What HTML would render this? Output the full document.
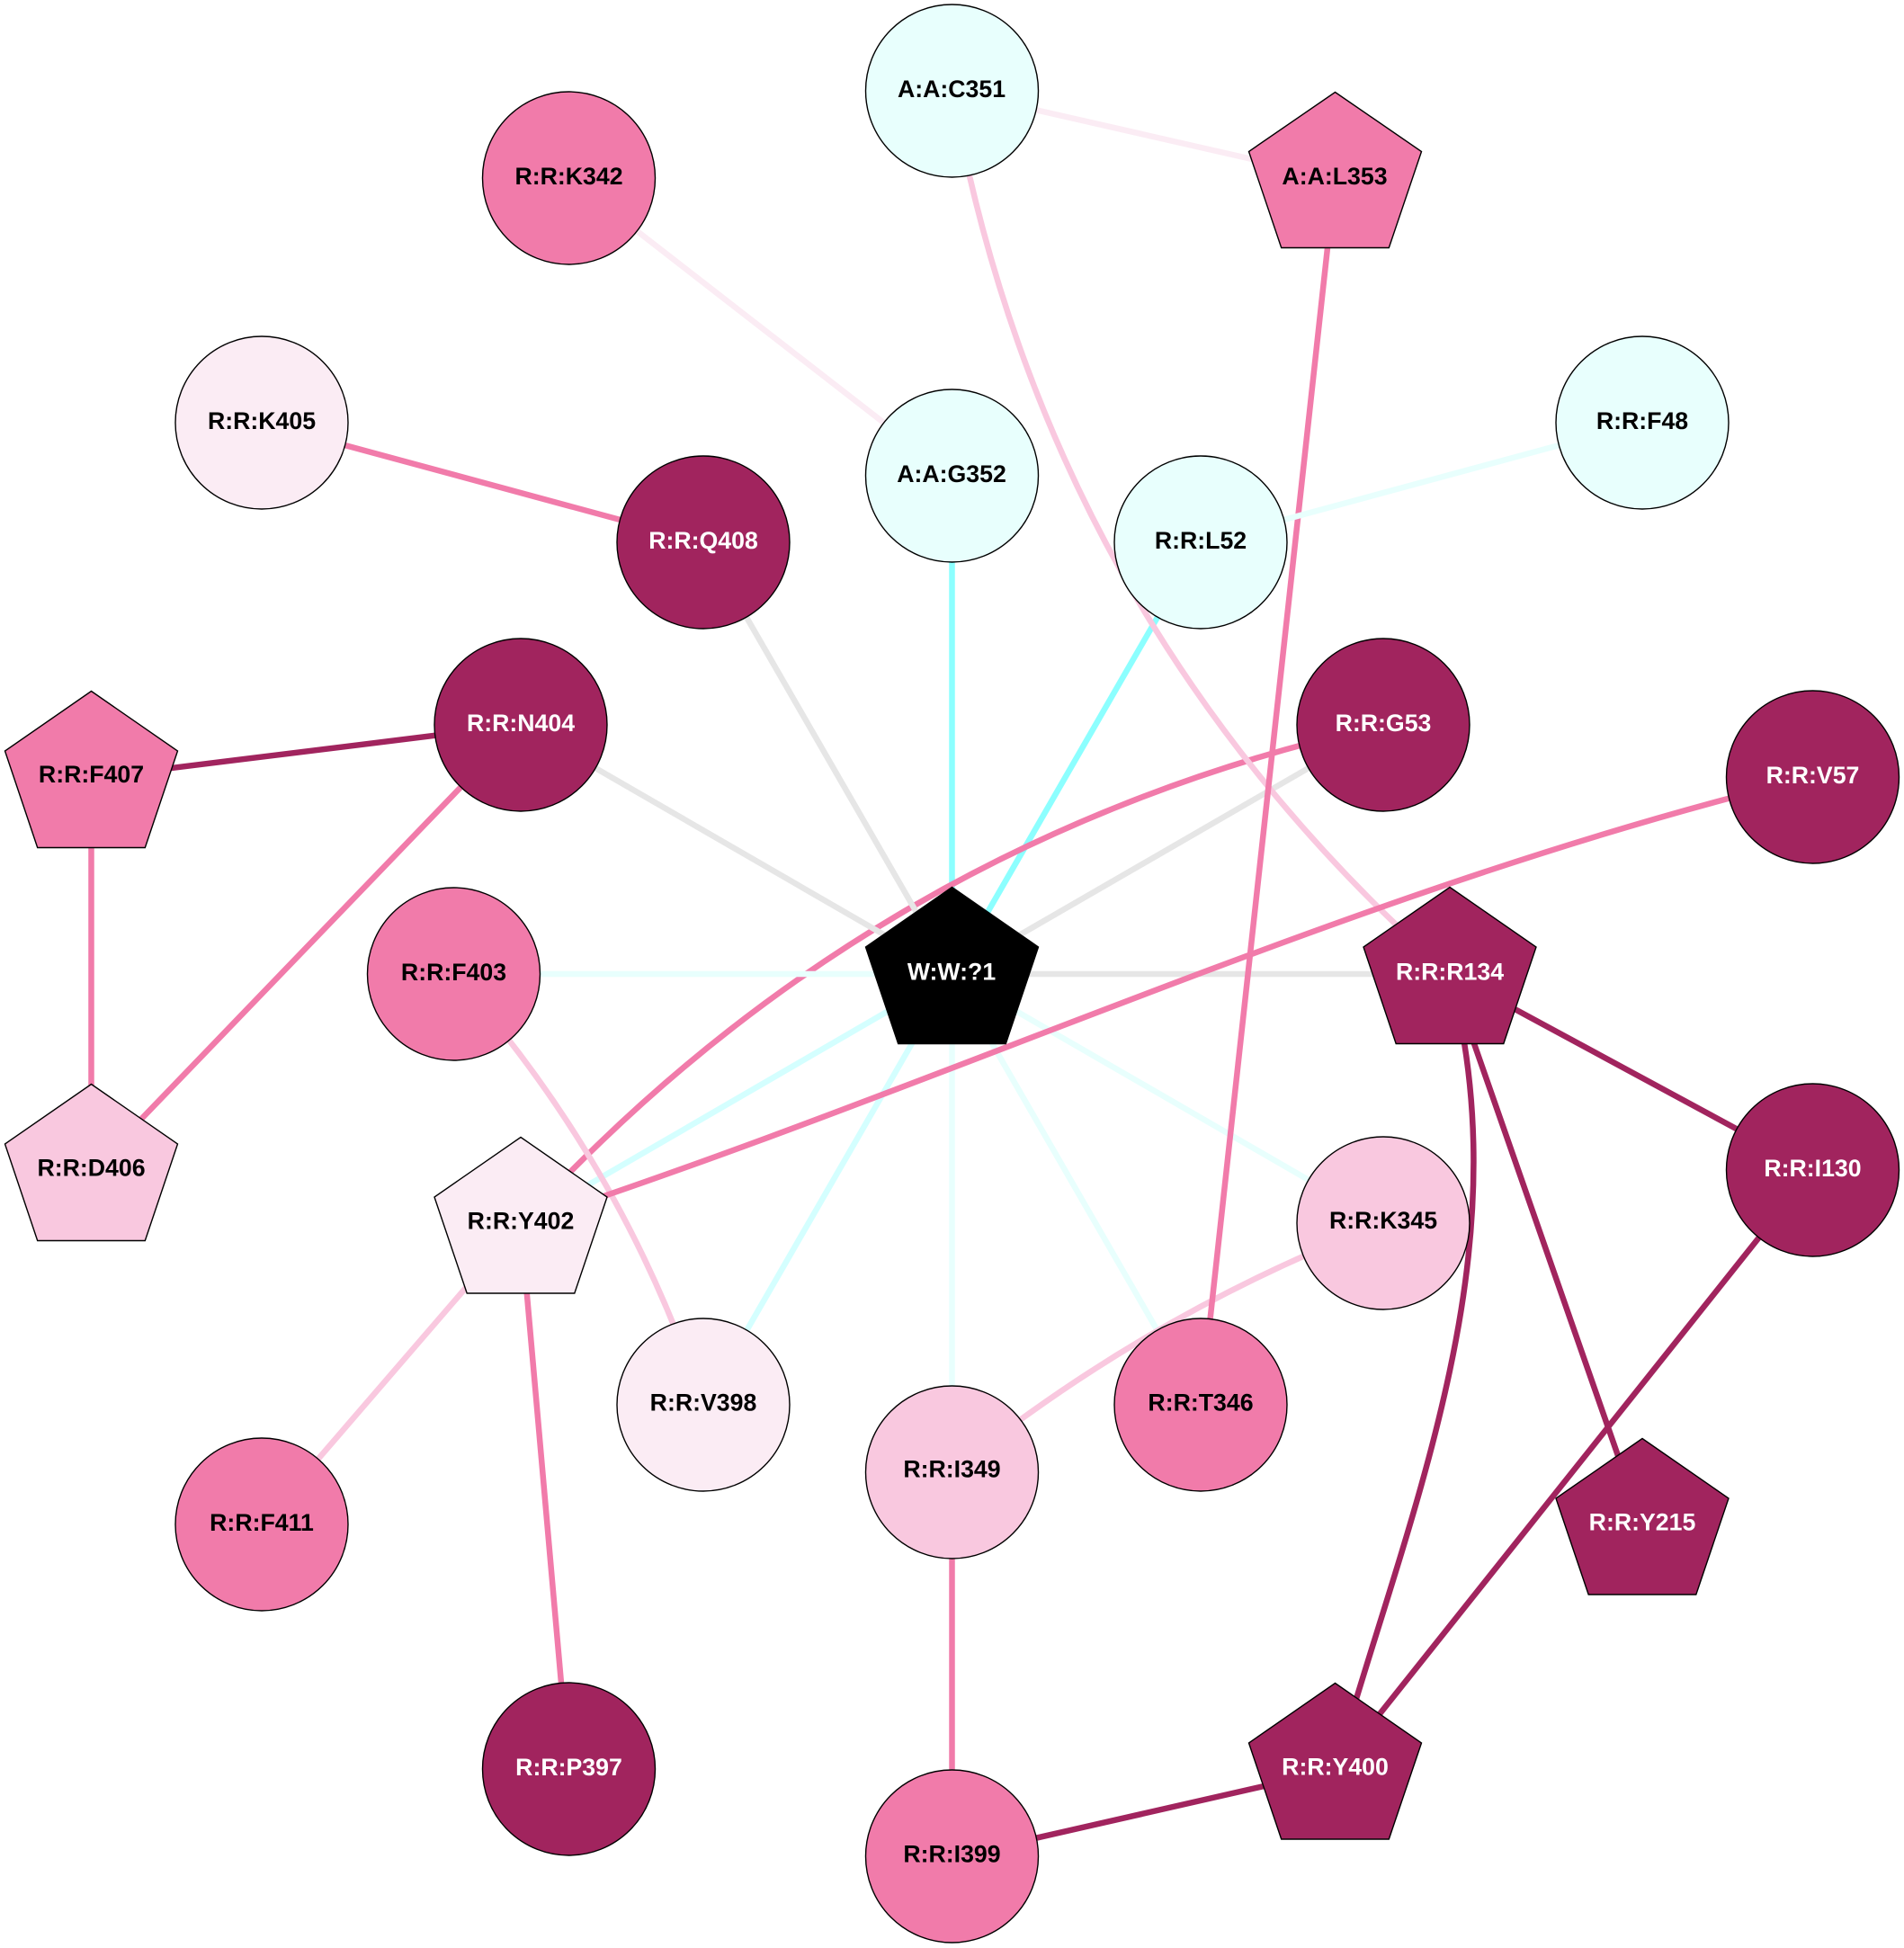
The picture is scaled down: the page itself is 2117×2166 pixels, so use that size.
<!DOCTYPE html>
<html>
<head>
<meta charset="utf-8">
<style>
html,body{margin:0;padding:0;background:#fff}
svg{display:block}
text{font-family:"Liberation Sans",Arial,sans-serif;font-weight:bold;font-size:26.7px;text-anchor:middle}
.e{fill:none;stroke-width:6.5}
.n{stroke:#000;stroke-width:1.4}
</style>
</head>
<body>
<svg width="2117" height="2166" viewBox="0 0 2117 2166" xmlns="http://www.w3.org/2000/svg">
<rect width="2117" height="2166" fill="#fff"/>
<!-- lowest layer -->
<path class="e" stroke="#8CFFFF" d="M1058.5 529V1083"/>
<path class="e" stroke="#8CFFFF" d="M1335 603L1058.5 1083"/>
<path class="e" stroke="#F17BAA" d="M1538 806Q970.9 932.2 579 1361"/>
<!-- gray -->
<path class="e" stroke="#E6E6E6" d="M782 603L1058.5 1083"/>
<path class="e" stroke="#E6E6E6" d="M579 806L1058.5 1083"/>
<path class="e" stroke="#E6E6E6" d="M1538 806L1058.5 1083"/>
<path class="e" stroke="#E6E6E6" d="M1612 1083H1058.5"/>
<!-- cyan -->
<path class="e" stroke="#D4FFFF" d="M579 1361L1058.5 1083"/>
<path class="e" stroke="#D4FFFF" d="M782 1563L1058.5 1083"/>
<path class="e" stroke="#E8FFFD" d="M504.5 1083H1058.5"/>
<path class="e" stroke="#E8FFFD" d="M1058.5 1637V1083"/>
<path class="e" stroke="#E8FFFD" d="M1335 1563L1058.5 1083"/>
<path class="e" stroke="#E8FFFD" d="M1538 1360L1058.5 1083"/>
<!-- pale pink -->
<path class="e" stroke="#FBECF4" d="M1058.5 101L1484.5 198"/>
<path class="e" stroke="#FBECF4" d="M632.5 198L1058.5 529"/>
<!-- light pink -->
<path class="e" stroke="#F9C8DF" d="M1058.5 101Q1163.6 688.6 1612 1083"/>
<path class="e" stroke="#F9C8DF" d="M1538 1360Q1276.2 1460.4 1058.5 1637"/>
<path class="e" stroke="#F9C8DF" d="M579 1361L291 1695"/>
<path class="e" stroke="#F9C8DF" d="M504.5 1083Q693.5 1294 782 1563"/>
<!-- pink -->
<path class="e" stroke="#F17BAA" d="M2015.5 864C1520.1 983 1061.1 1203.7 579 1361"/>
<path class="e" stroke="#F17BAA" d="M1484.5 198L1335 1563"/>
<path class="e" stroke="#E8FFFD" d="M1826 470L1335 603"/>
<path class="e" stroke="#F17BAA" d="M291 470L782 603"/>
<path class="e" stroke="#F17BAA" d="M101.5 865V1302"/>
<path class="e" stroke="#F17BAA" d="M579 806L101.5 1302"/>
<path class="e" stroke="#F17BAA" d="M579 1361L632.5 1968"/>
<path class="e" stroke="#F17BAA" d="M1058.5 1637V2065"/>
<!-- dark -->
<path class="e" stroke="#A1245E" d="M101.5 865L579 806"/>
<path class="e" stroke="#A1245E" d="M1612 1083L2015.5 1301"/>
<path class="e" stroke="#A1245E" d="M1612 1083L1826 1696"/>
<path class="e" stroke="#A1245E" d="M1612 1083C1693.9 1395.5 1566.9 1678.3 1484.5 1968"/>
<path class="e" stroke="#A1245E" d="M2015.5 1301L1484.5 1968"/>
<path class="e" stroke="#A1245E" d="M1058.5 2065L1484.5 1968"/>

<!-- circles -->
<circle class="n" cx="1058.5" cy="101" r="96" fill="#E8FFFD"/>
<circle class="n" cx="632.5" cy="198" r="96" fill="#F17BAA"/>
<circle class="n" cx="291" cy="470" r="96" fill="#FBECF4"/>
<circle class="n" cx="1826" cy="470" r="96" fill="#E8FFFD"/>
<circle class="n" cx="1058.5" cy="529" r="96" fill="#E8FFFD"/>
<circle class="n" cx="782" cy="603" r="96" fill="#A1245E"/>
<circle class="n" cx="1335" cy="603" r="96" fill="#E8FFFD"/>
<circle class="n" cx="579" cy="806" r="96" fill="#A1245E"/>
<circle class="n" cx="1538" cy="806" r="96" fill="#A1245E"/>
<circle class="n" cx="2015.5" cy="864" r="96" fill="#A1245E"/>
<circle class="n" cx="504.5" cy="1083" r="96" fill="#F17BAA"/>
<circle class="n" cx="2015.5" cy="1301" r="96" fill="#A1245E"/>
<circle class="n" cx="1538" cy="1360" r="96" fill="#F9C8DF"/>
<circle class="n" cx="782" cy="1562" r="96" fill="#FBECF4"/>
<circle class="n" cx="1335" cy="1562" r="96" fill="#F17BAA"/>
<circle class="n" cx="1058.5" cy="1637" r="96" fill="#F9C8DF"/>
<circle class="n" cx="291" cy="1695" r="96" fill="#F17BAA"/>
<circle class="n" cx="632.5" cy="1967" r="96" fill="#A1245E"/>
<circle class="n" cx="1058.5" cy="2064" r="96" fill="#F17BAA"/>

<!-- pentagons -->
<polygon class="n" transform="translate(1484.5 198)" points="0,-95.5 96,-29.5 59.8,77.5 -59.8,77.5 -96,-29.5" fill="#F17BAA"/>
<polygon class="n" transform="translate(101.5 865)" points="0,-96.5 96,-30 59.8,77.5 -59.8,77.5 -96,-30" fill="#F17BAA"/>
<polygon class="n" transform="translate(101.5 1302)" points="0,-96.5 96,-30 59.8,77.5 -59.8,77.5 -96,-30" fill="#F9C8DF"/>
<polygon class="n" transform="translate(579 1361)" points="0,-96.5 96,-30 59.8,77 -59.8,77 -96,-30" fill="#FBECF4"/>
<polygon class="n" transform="translate(1058.5 1083)" points="0,-96.5 96,-30 59.8,77.5 -59.8,77.5 -96,-30" fill="#000"/>
<polygon class="n" transform="translate(1612 1083)" points="0,-96.5 96,-30 59.8,77.5 -59.8,77.5 -96,-30" fill="#A1245E"/>
<polygon class="n" transform="translate(1826 1696)" points="0,-96.5 96,-30 59.8,77 -59.8,77 -96,-30" fill="#A1245E"/>
<polygon class="n" transform="translate(1484.5 1968)" points="0,-96.5 96,-30 59.8,77 -59.8,77 -96,-30" fill="#A1245E"/>

<!-- labels -->
<g fill="#000">
<text x="1058" y="108">A:A:C351</text>
<text x="1484" y="205">A:A:L353</text>
<text x="632.5" y="205">R:R:K342</text>
<text x="291" y="477">R:R:K405</text>
<text x="1826" y="477">R:R:F48</text>
<text x="1058" y="536">A:A:G352</text>
<text x="1335" y="610">R:R:L52</text>
<text x="101.5" y="870">R:R:F407</text>
<text x="504.5" y="1090">R:R:F403</text>
<text x="101.5" y="1307.5">R:R:D406</text>
<text x="579" y="1366.5">R:R:Y402</text>
<text x="1538" y="1366">R:R:K345</text>
<text x="782" y="1568.5">R:R:V398</text>
<text x="1335" y="1568.5">R:R:T346</text>
<text x="1058.5" y="1642.5">R:R:I349</text>
<text x="291" y="1702">R:R:F411</text>
<text x="1058.5" y="2070.5">R:R:I399</text>
</g>
<g fill="#fff">
<text x="782" y="610">R:R:Q408</text>
<text x="579" y="813">R:R:N404</text>
<text x="1538" y="813">R:R:G53</text>
<text x="2015.5" y="871">R:R:V57</text>
<text x="1058" y="1089.5">W:W:?1</text>
<text x="1612" y="1089.5">R:R:R134</text>
<text x="2015.5" y="1308">R:R:I130</text>
<text x="1826" y="1701.5">R:R:Y215</text>
<text x="632.5" y="1974">R:R:P397</text>
<text x="1484.5" y="1973.5">R:R:Y400</text>
</g>
</svg>
</body>
</html>
